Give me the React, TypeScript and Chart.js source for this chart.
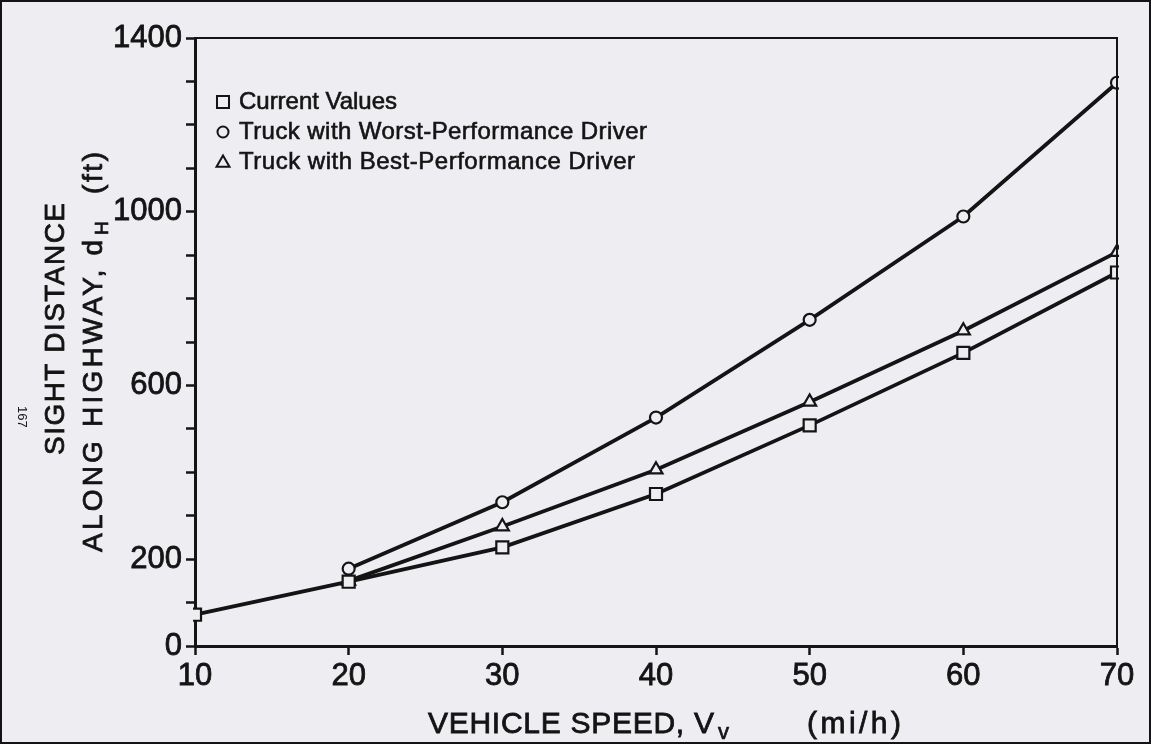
import React, { useEffect, useRef } from 'react';
import { Chart, registerables } from 'chart.js';
import { drawPoint } from 'chart.js/helpers';

Chart.register(...registerables);

// ---- data ----
const speeds = [10, 20, 30, 40, 50, 60, 70];
const currentValues = [72, 148, 227, 350, 508, 675, 860];
const worstDriver = [null, 178, 331, 526, 751, 989, 1297];
const bestDriver = [null, 150, 275, 406, 562, 726, 907];
const seriesLabels = [
  'Current Values',
  'Truck with Worst-Performance Driver',
  'Truck with Best-Performance Driver',
];
const yTickLabels = [0, 200, 600, 1000, 1400];
const xTitleParts = ['VEHICLE SPEED, V', 'v', '(mi/h)'];
const yTitleLine1 = 'SIGHT DISTANCE';
const yTitleLine2Parts = ['ALONG HIGHWAY, d', 'H', '(ft)'];
const pageNumber = '167';

// ---- styles ----
const paper = '#eeedf1';
const ink = '#141414';
const FONT = "'Liberation Sans', Arial, sans-serif";

function toPoints(values: (number | null)[]) {
  return speeds
    .map((x, i) => ({ x, y: values[i] }))
    .filter((p) => p.y !== null) as { x: number; y: number }[];
}

function fitText(ctx: any, text: string, x: number, y: number, width: number, stroke = 0.8) {
  ctx.letterSpacing = '0px';
  const w = ctx.measureText(text).width;
  const n = Math.max(1, text.length - 1);
  const ls = (width - w) / n;
  ctx.letterSpacing = `${ls}px`;
  ctx.fillText(text, x, y);
  if (stroke > 0) {
    ctx.lineWidth = stroke;
    ctx.strokeStyle = ink;
    ctx.strokeText(text, x, y);
  }
  ctx.letterSpacing = '0px';
}

function plainText(ctx: any, text: string, x: number, y: number, stroke = 0.7) {
  ctx.fillText(text, x, y);
  if (stroke > 0) {
    ctx.lineWidth = stroke;
    ctx.strokeStyle = ink;
    ctx.strokeText(text, x, y);
  }
}

const pagePlugin = {
  id: 'page',
  beforeDraw(chart: any) {
    const { ctx, width, height } = chart;
    ctx.save();
    ctx.fillStyle = paper;
    ctx.fillRect(0, 0, width, height);
    ctx.strokeStyle = ink;
    ctx.lineWidth = 2;
    ctx.strokeRect(1, 1, width - 2, height - 2);
    ctx.restore();
  },
  afterDatasetsDraw(chart: any) {
    const { ctx, chartArea } = chart;
    ctx.save();
    ctx.strokeStyle = ink;
    ctx.lineWidth = 2;
    ctx.beginPath();
    ctx.moveTo(chartArea.left - 1, chartArea.top);
    ctx.lineTo(chartArea.right, chartArea.top);
    ctx.lineTo(chartArea.right, chartArea.bottom);
    ctx.stroke();
    ctx.restore();
  },
  afterDraw(chart: any) {
    const { ctx } = chart;
    ctx.save();
    ctx.fillStyle = ink;
    ctx.textAlign = 'left';
    ctx.textBaseline = 'alphabetic';

    // x-axis title
    ctx.font = `30px ${FONT}`;
    fitText(ctx, xTitleParts[0], 428, 733, 286);
    ctx.font = `22px ${FONT}`;
    plainText(ctx, xTitleParts[1], 718, 739);
    ctx.font = `30px ${FONT}`;
    fitText(ctx, xTitleParts[2], 807, 733, 94);

    // y-axis title (rotated)
    ctx.save();
    ctx.translate(64, 455);
    ctx.rotate(-Math.PI / 2);
    ctx.font = `28px ${FONT}`;
    fitText(ctx, yTitleLine1, 0, 0, 252);
    ctx.restore();

    ctx.save();
    ctx.translate(102, 552);
    ctx.rotate(-Math.PI / 2);
    ctx.font = `28px ${FONT}`;
    fitText(ctx, yTitleLine2Parts[0], 0, 0, 312);
    ctx.font = `19px ${FONT}`;
    plainText(ctx, yTitleLine2Parts[1], 317, 6);
    ctx.font = `28px ${FONT}`;
    fitText(ctx, yTitleLine2Parts[2], 358, 0, 42);
    ctx.restore();

    // page number
    ctx.save();
    ctx.translate(18, 406);
    ctx.rotate(Math.PI / 2);
    ctx.font = `13px ${FONT}`;
    plainText(ctx, pageNumber, 0, 0, 0);
    ctx.restore();

    // legend
    const widths = [158, 408, 396];
    chart.data.datasets.forEach((ds: any, i: number) => {
      const cy = 102 + i * 30;
      ctx.save();
      ctx.fillStyle = paper;
      ctx.strokeStyle = ink;
      ctx.lineWidth = 2;
      drawPoint(ctx, {
        pointStyle: ds.pointStyle,
        rotation: 0,
        radius: ds.pointStyle === 'rect' ? 8.5 : ds.pointStyle === 'triangle' ? 7.5 : 5.5,
        borderWidth: 2,
      }, 223, ds.pointStyle === 'triangle' ? cy + 1 : cy);
      ctx.restore();
      ctx.fillStyle = ink;
      ctx.font = `24px ${FONT}`;
      ctx.textBaseline = 'middle';
      fitText(ctx, ds.label, 239, cy, widths[i], 0.6);
    });
    ctx.restore();
  },
};

const common = {
  borderColor: ink,
  borderWidth: 3.8,
  pointBorderColor: ink,
  pointBackgroundColor: paper,
  pointBorderWidth: 2.2,
  tension: 0,
  fill: false,
  clip: { left: 2, right: 2, top: 30, bottom: 2 },
};

export default function App() {
  const ref = useRef<HTMLCanvasElement>(null);

  useEffect(() => {
    document.body.style.margin = '0';
    document.body.style.background = paper;
    const canvas = ref.current;
    if (!canvas) return;
    const chart = new Chart(canvas, {
      type: 'line',
      data: {
        datasets: [
          {
            ...common,
            label: seriesLabels[0],
            data: toPoints(currentValues),
            pointStyle: 'rect',
            pointRadius: 8.5,
          },
          {
            ...common,
            label: seriesLabels[1],
            data: toPoints(worstDriver),
            pointStyle: 'circle',
            pointRadius: 6,
          },
          {
            ...common,
            label: seriesLabels[2],
            data: toPoints(bestDriver),
            pointStyle: 'triangle',
            pointRadius: 7.5,
          },
        ],
      },
      options: {
        responsive: false,
        animation: false,
        devicePixelRatio: 1,
        layout: { padding: { left: 0, top: 38, right: 34, bottom: 0 } },
        plugins: {
          legend: { display: false },
          tooltip: { enabled: false },
        },
        scales: {
          x: {
            type: 'linear',
            min: 10,
            max: 70,
            afterFit: (s: any) => {
              s.height = 98;
            },
            ticks: {
              stepSize: 10,
              autoSkip: false,
              maxRotation: 0,
              padding: 3,
              color: ink,
              textStrokeColor: ink,
              textStrokeWidth: 0.8,
              font: { family: FONT, size: 31 },
              callback: (v: any) => String(v),
            },
            grid: {
              display: true,
              drawOnChartArea: false,
              drawTicks: true,
              tickLength: 9,
              tickWidth: 2.5,
              tickColor: ink,
            },
            border: { display: true, color: ink, width: 3 },
          },
          y: {
            type: 'linear',
            min: 0,
            max: 1400,
            afterFit: (s: any) => {
              s.width = 195;
            },
            ticks: {
              stepSize: 100,
              autoSkip: false,
              padding: 4,
              color: ink,
              textStrokeColor: ink,
              textStrokeWidth: 0.8,
              font: { family: FONT, size: 31 },
              callback: (v: any) => (yTickLabels.includes(Number(v)) ? String(v) : ''),
            },
            grid: {
              display: true,
              drawOnChartArea: false,
              drawTicks: true,
              tickLength: 9,
              tickWidth: 2.5,
              tickColor: ink,
            },
            border: { display: true, color: ink, width: 3 },
          },
        },
      },
      plugins: [pagePlugin],
    } as any);
    return () => chart.destroy();
  }, []);

  return (
    <canvas
      ref={ref}
      width={1151}
      height={744}
      style={{ display: 'block', width: 1151, height: 744 }}
    />
  );
}
